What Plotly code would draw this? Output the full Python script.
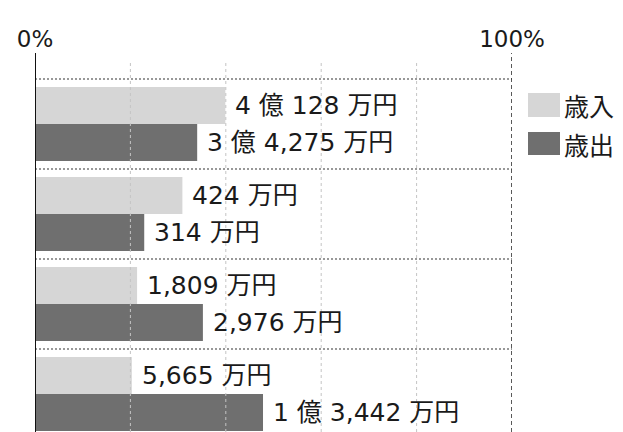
import plotly.graph_objects as go

# Data
groups = [0, 1, 2, 3]
revenue_pct = [39.9, 30.9, 21.4, 20.3]      # 歳入
expend_pct = [34.0, 22.9, 35.2, 47.8]       # 歳出
revenue_labels = ["4 億 128 万円", "424 万円", "1,809 万円", "5,665 万円"]
expend_labels = ["3 億 4,275 万円", "314 万円", "2,976 万円", "1 億 3,442 万円"]
series_names = ["歳入", "歳出"]
x_tick_vals = [0, 100]
x_tick_text = ["0%", "100%"]
grid_vals = [20, 40, 60, 80]

FONT = "DejaVu Sans, Noto Sans CJK JP"
CJK = "Noto Sans CJK JP"
LIGHT = "#d6d6d6"
DARK = "#6f6f6f"
OFF = 8  # page body margin offset
W, H = 623 - OFF, 432 - OFF
ML, MT, MB = 35 - OFF, 53 - OFF, 0
MR = W - (512 - OFF)
PH = H - MT - MB
PW = W - ML - MR

def px_x(p):
    return (p - OFF - ML) / PW

def px_y(p):
    return (H - MB - (p - OFF)) / PH

fig = go.Figure()
fig.add_trace(go.Bar(y=groups, x=revenue_pct, orientation="h", name=series_names[0],
                     marker=dict(color=LIGHT, line=dict(width=0)), showlegend=False))
fig.add_trace(go.Bar(y=groups, x=expend_pct, orientation="h", name=series_names[1],
                     marker=dict(color=DARK, line=dict(width=0)), showlegend=False))

annotations = []
for g, v, t in zip(groups, revenue_pct, revenue_labels):
    annotations.append(dict(x=v, y=g - 0.205, xref="x", yref="y", text=t, showarrow=False,
                            xanchor="left", yanchor="middle", xshift=8,
                            font=dict(family=FONT, size=25, color="#1a1a1a")))
for g, v, t in zip(groups, expend_pct, expend_labels):
    annotations.append(dict(x=v, y=g + 0.205, xref="x", yref="y", text=t, showarrow=False,
                            xanchor="left", yanchor="middle", xshift=8,
                            font=dict(family=FONT, size=25, color="#1a1a1a")))

shapes = []
for gv in grid_vals:
    shapes.append(dict(type="line", xref="x", yref="paper", x0=gv, x1=gv,
                       y0=0, y1=px_y(63), line=dict(color="#c4c4c4", width=1, dash="3px,3px")))
shapes.append(dict(type="line", xref="x", yref="paper", x0=100, x1=100, y0=0, y1=1,
                   line=dict(color="#222222", width=1.5, dash="4px,3px")))
for g in groups:
    shapes.append(dict(type="line", xref="x", yref="y", x0=0, x1=100, y0=g - 0.5, y1=g - 0.5,
                       line=dict(color="#333333", width=1.2, dash="2px,2px")))
shapes.append(dict(type="line", xref="x", yref="paper", x0=0, x1=0, y0=0, y1=1,
                   line=dict(color="#111111", width=2)))

# custom legend
legend_rows = [(93, 117, 105, LIGHT), (132, 155, 144, DARK)]
for (top, bot, mid, col), nm in zip(legend_rows, series_names):
    shapes.append(dict(type="rect", xref="paper", yref="paper",
                       x0=px_x(528), x1=px_x(560), y0=px_y(bot), y1=px_y(top),
                       fillcolor=col, line=dict(width=0)))
    annotations.append(dict(x=px_x(562), y=px_y(mid), xref="paper", yref="paper", text=nm,
                            showarrow=False, xanchor="left", yanchor="middle",
                            font=dict(family=CJK, size=25, color="#1a1a1a")))

for s in shapes:
    fig.add_shape(**s)

top_units = -0.5 - (79 - 53) / 90
bottom_units = -0.5 + (432 - 79) / 90

fig.update_layout(
    width=W, height=H,
    margin=dict(l=ML, r=MR, t=MT, b=MB, pad=0),
    paper_bgcolor="white", plot_bgcolor="white",
    barmode="group", bargap=0.178, bargroupgap=0,
    annotations=annotations,
    font=dict(family=FONT, color="#1a1a1a"),
    xaxis=dict(range=[0, 100], side="top", tickvals=x_tick_vals, ticktext=x_tick_text,
               showgrid=False, zeroline=False, showline=False, ticks="",
               tickfont=dict(family=FONT, size=23, color="#1a1a1a"), fixedrange=True),
    yaxis=dict(range=[bottom_units, top_units], showticklabels=False, showgrid=False,
               zeroline=False, showline=False, ticks="", fixedrange=True),
)

fig.write_html("out.html")
